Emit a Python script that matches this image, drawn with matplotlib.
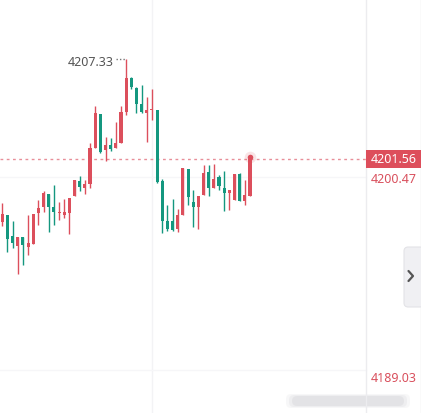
import matplotlib
matplotlib.use("Agg")
import matplotlib.pyplot as plt
import numpy as np
from matplotlib.patches import Rectangle, FancyBboxPatch

# OHLC (red = up, green = down)
opens = [4197.94, 4198.34, 4197.13, 4196.56, 4197.08, 4196.50, 4196.68, 4198.46, 4198.80, 4199.55,
         4198.80, 4198.46, 4198.34, 4198.46, 4199.43, 4200.30, 4199.89, 4200.12, 4202.19, 4204.15,
         4202.08, 4202.36, 4202.19, 4202.48, 4204.26, 4206.21, 4205.64, 4204.72, 4204.20, 4204.38,
         4204.38, 4200.30, 4197.99, 4197.99, 4197.54, 4198.34, 4200.99, 4199.09, 4198.80, 4199.49,
         4200.81, 4199.89, 4200.53, 4199.89, 4199.61, 4199.20, 4200.70, 4199.15, 4199.43]
highs = [4199.03, 4198.34, 4197.99, 4197.08, 4197.08, 4198.34, 4198.40, 4199.20, 4199.72, 4199.55,
         4200.07, 4199.09, 4199.26, 4199.32, 4200.35, 4200.58, 4200.35, 4202.48, 4204.61, 4204.15,
         4202.82, 4202.77, 4203.69, 4204.61, 4207.33, 4206.27, 4205.70, 4205.81, 4205.12, 4205.58,
         4204.38, 4200.41, 4198.92, 4199.26, 4198.69, 4201.04, 4200.99, 4199.78, 4199.43, 4201.22,
         4201.22, 4201.27, 4200.64, 4200.87, 4199.78, 4200.70, 4200.76, 4200.35, 4201.70]
lows = [4197.71, 4196.22, 4196.45, 4194.95, 4195.47, 4196.04, 4196.68, 4197.77, 4198.51, 4197.36,
        4197.77, 4198.05, 4198.17, 4197.25, 4199.43, 4199.72, 4199.55, 4199.89, 4202.19, 4201.90,
        4201.45, 4202.02, 4202.19, 4202.48, 4204.09, 4205.58, 4204.20, 4204.20, 4202.54, 4203.80,
        4200.20, 4197.31, 4197.42, 4197.42, 4197.36, 4198.34, 4198.92, 4197.65, 4197.54, 4199.49,
        4199.43, 4199.89, 4199.78, 4198.57, 4198.63, 4199.20, 4199.15, 4198.92, 4199.43]
closes = [4198.40, 4196.96, 4196.73, 4197.08, 4196.62, 4196.73, 4198.40, 4198.74, 4199.61, 4198.80,
          4198.51, 4198.51, 4198.51, 4199.32, 4200.35, 4199.95, 4200.12, 4202.19, 4204.20, 4201.96,
          4202.36, 4202.13, 4202.48, 4204.26, 4206.21, 4205.70, 4204.72, 4204.26, 4204.38, 4204.43,
          4200.24, 4197.99, 4197.54, 4197.48, 4198.34, 4201.04, 4199.38, 4198.80, 4199.43, 4200.76,
          4199.89, 4200.41, 4200.01, 4199.61, 4199.78, 4200.70, 4199.15, 4199.49, 4201.56]

last_price = 4201.56
high_label = 4207.33
side_labels = [4200.47, 4189.03]

RED = "#dc4f5c"
GREEN = "#14977f"
W, H = 421, 414

fig = plt.figure(figsize=(W / 100, H / 100), dpi=100)
ax = fig.add_axes([0, 0, 1, 1])
ax.set_axis_off()

# pixel <-> data scales
step = 5.16
x0 = 2.3
ppu = 17.4
ytop = last_price + 160 / ppu
ax.set_xlim(-x0 / step, (W - x0) / step)
ax.set_ylim(ytop - H / ppu, ytop)


def P(x, y):
    return x / W, 1 - y / H


# faint grid
ax.axvline(151.5 / step - x0 / step, color="#f3f3f5", lw=1, zorder=0)
ax.axhline(side_labels[0] + 0.05, xmax=366 / W, color="#f6f6f8", lw=1, zorder=0)
ax.axhline(side_labels[1] + 0.4, xmax=366 / W, color="#f6f6f8", lw=1, zorder=0)
ax.plot([366 / W, 366 / W], [0, 1], transform=ax.transAxes, color="#ececef", lw=1)
ax.plot([420.5 / W, 420.5 / W], [0, 1], transform=ax.transAxes, color="#e6e6ea", lw=1)

# candles
idx = np.arange(len(opens))
o = np.array(opens)
c = np.array(closes)
up = c >= o
cols = np.where(up, RED, GREEN)
ax.vlines(idx, lows, highs, colors=cols, lw=1, zorder=3)
bottom = np.minimum(o, c)
height = np.maximum(np.abs(c - o), 0.07)
ax.bar(idx, height, bottom=bottom, width=0.6, color=cols, zorder=4, linewidth=0)

# last price line and glow
ax.axhline(last_price, xmax=366 / W, color="#e88f99", lw=1, ls=(0, (2, 2.5)), zorder=2)
ax.scatter([idx[-1]], [closes[-1] + 0.1], s=70, color=RED, alpha=0.15, zorder=5, linewidths=0)
ax.scatter([idx[-1]], [closes[-1] + 0.1], s=16, color=RED, zorder=6, linewidths=0)

# high marker
hi_i = int(np.argmax(highs))
ax.plot([hi_i - 2.0, hi_i - 0.25], [high_label, high_label], color="#777777", lw=1,
        ls=(0, (1, 1.5)), zorder=3)
ax.text(hi_i - 2.45, high_label - 0.17, f"{high_label:.2f}", ha="right", va="center",
        fontsize=9, color="#555555", family="Noto Sans")

# price axis labels
ax.add_patch(Rectangle(P(366, 169), 55 / W, 18 / H, transform=ax.transAxes,
                       color="#dd4e5b", zorder=7, linewidth=0))
ax.text(393.5 / W, last_price, f"{last_price:.2f}", transform=ax.get_yaxis_transform(),
        ha="center", va="center", fontsize=9, color="white", family="Noto Sans", zorder=8)
for v in side_labels:
    ax.text(393.5 / W, v - 0.05, f"{v:.2f}", transform=ax.get_yaxis_transform(),
            ha="center", va="center", fontsize=9, color="#d9505d", family="Noto Sans")

# side collapse button
ax.add_patch(FancyBboxPatch(P(404, 308), 20 / W, 60 / H, transform=ax.transAxes,
                            boxstyle="round,pad=0,rounding_size=0.01",
                            facecolor="#f0f0f3", edgecolor="#e3e3e7", lw=0.8, zorder=7))
cx, cy = P(408.5, 272), P(413, 277)
cz = P(408.5, 282)
ax.plot([cx[0], cy[0], cz[0]], [cx[1], cy[1], cz[1]], transform=ax.transAxes,
        color="#555555", lw=1.6, solid_capstyle="round", zorder=8)

# blurred watermark at the bottom
for k, a in enumerate([0.07, 0.09, 0.12]):
    ax.add_patch(FancyBboxPatch(P(286 + k * 3, 409 - k), (124 - k * 6) / W, (14 - k * 2) / H,
                                transform=ax.transAxes,
                                boxstyle="round,pad=0,rounding_size=0.012",
                                facecolor="#9a9aa0", alpha=a, lw=0, zorder=1))

fig.savefig("out.png", dpi=100, facecolor="white")
